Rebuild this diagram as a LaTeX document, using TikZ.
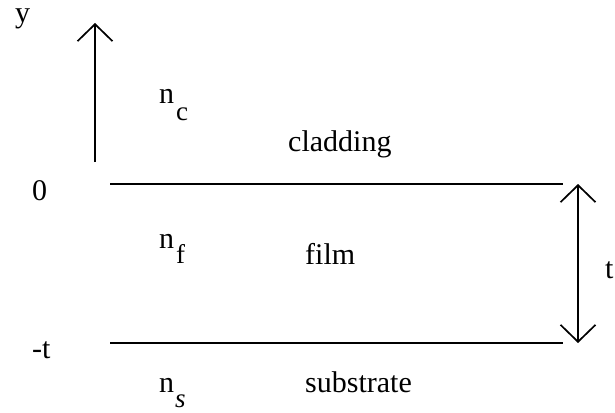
\documentclass[tikz,border=0pt]{standalone}
\usepackage{fontspec}
\setmainfont{Liberation Serif}
\usetikzlibrary{arrows.meta}
\begin{document}
\begin{tikzpicture}[x=1pt,y=-1pt,
  lbl/.style={anchor=base west,inner sep=0pt,font=\fontsize{30}{36}\selectfont},
  sub/.style={anchor=base west,inner sep=0pt,font=\fontsize{27}{32}\selectfont},
  axis/.style={line width=1.7pt,-{Straight Barb[length=17pt,width=35pt,line width=1.7pt]}},
  dim/.style={line width=1.7pt,{Straight Barb[length=17pt,width=35pt,line width=1.7pt]}-{Straight Barb[length=17pt,width=35pt,line width=1.7pt]}},
  iface/.style={line width=1.7pt}]
\useasboundingbox (0,0) rectangle (615,412);
% axis
\coordinate (ybot) at (95,162);
\coordinate (ytop) at (95,23);
\draw[axis] (ybot) -- (ytop);
\node[lbl] (ylab) at (15,23) {y};
% interfaces
\coordinate (top1) at (110,184);
\coordinate (top2) at (563,184);
\coordinate (bot1) at (110,343);
\coordinate (bot2) at (563,343);
\draw[iface] (top1) -- (top2);
\draw[iface] (bot1) -- (bot2);
% thickness arrow
\coordinate (dtop) at (578,184);
\coordinate (dbot) at (578,343);
\draw[dim] (dtop) -- (dbot);
\node[lbl] (tlab) at (605,278) {t};
% axis labels
\node[lbl] (zero) at (32,200) {0};
\node[lbl] (mt) at (32,358) {-t};
% indices
\node[lbl] (nc) at (159,103) {n};
\node[sub] (ncs) at (176,120) {c};
\node[lbl] (nf) at (159,248) {n};
\node[sub] (nfs) at (176,263) {f};
\node[lbl] (ns) at (159,392) {n};
\node[sub] (nss) at (175,407) {\itshape s};
% layer names
\node[lbl] (clad) at (288,151) {cladding};
\node[lbl] (film) at (305,264) {film};
\node[lbl] (subs) at (305,392) {substrate};
\end{tikzpicture}
\end{document}
